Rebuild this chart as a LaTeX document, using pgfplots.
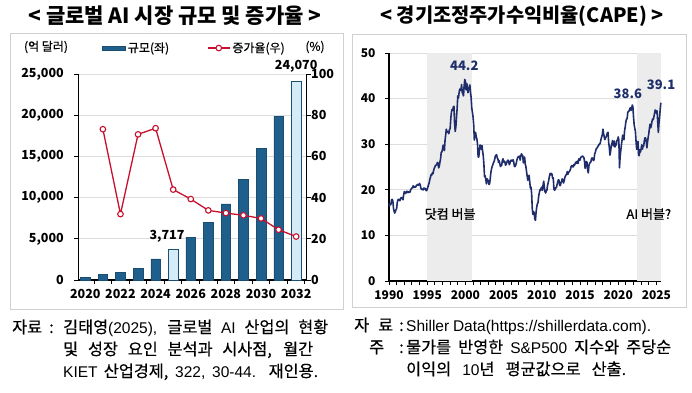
\documentclass[border=0pt]{standalone}
\usepackage{fontspec}
\setmainfont{Noto Sans CJK KR}
\newfontfamily\medfont{Noto Sans CJK KR}[FakeBold=0.45]
\newfontfamily\latfont{Liberation Sans}
\usepackage{pgfplots}
\usepackage{pgfplotstable}
\pgfplotsset{compat=1.18}
\definecolor{barD}{HTML}{1F5F8B}
\definecolor{barL}{HTML}{D4ECF8}
\definecolor{barE}{HTML}{1B4F72}
\definecolor{redL}{HTML}{C8102E}
\definecolor{navy}{HTML}{1F2E6B}
\definecolor{shade}{HTML}{ECECEC}
\definecolor{gridc}{HTML}{DDDDDD}
\definecolor{boxc}{HTML}{D0D0D0}
\newcommand{\cfont}{\medfont\fontsize{16.3}{18}\selectfont}
\newcommand{\lat}[1]{{\latfont\fontsize{15.5}{18}\selectfont #1}}
\newcommand{\lfont}{\medfont\fontsize{12}{14}\selectfont}
\newcommand{\kfont}{\bfseries\fontsize{12.5}{14}\selectfont}
\pgfplotsset{mylinelegend/.style={legend image code/.code={\draw[mark repeat=2, mark phase=2, ##1] plot coordinates {(0pt,0pt) (11pt,0pt) (22pt,0pt)};}}}
\pgfplotsset{mybarlegend/.style={legend image code/.code={\draw[fill=barD, draw=barE, line width=0.4pt] (0pt,-2.2pt) rectangle (23pt,2.2pt);}}}

\pgfplotstableread{
year size
2020 350
2021 690
2022 900
2023 1420
2024 2560
2026 5200
2027 7030
2028 9230
2029 12200
2030 15930
2031 19900
}\sizeD
\pgfplotstableread{
year size
2025 3717
2032 24070
}\sizeL
\pgfplotstableread{
year rate
2021 73.2
2022 32.0
2023 70.7
2024 73.7
2025 43.9
2026 39.3
2027 33.8
2028 32.5
2029 31.4
2030 29.9
2031 24.4
2032 21.1
}\growth
\pgfplotstableread{
y m v
1990 1 17.0
1990 2 16.5
1990 3 16.9
1990 4 16.8
1990 5 17.8
1990 6 17.9
1990 7 17.6
1990 8 16.0
1990 9 15.3
1990 10 14.9
1990 11 15.3
1990 12 15.6
1991 1 15.9
1991 2 17.2
1991 3 17.8
1991 4 17.9
1991 5 17.9
1991 6 17.6
1991 7 18.0
1991 8 18.3
1991 9 18.1
1991 10 18.3
1991 11 17.8
1991 12 18.9
1992 1 19.6
1992 2 19.5
1992 3 19.2
1992 4 19.4
1992 5 19.7
1992 6 19.4
1992 7 19.6
1992 8 19.4
1992 9 19.6
1992 10 19.5
1992 11 20.0
1992 12 20.2
1993 1 20.4
1993 2 20.5
1993 3 20.9
1993 4 20.5
1993 5 20.7
1993 6 20.6
1993 7 20.6
1993 8 21.0
1993 9 21.0
1993 10 21.2
1993 11 21.0
1993 12 21.1
1994 1 21.4
1994 2 21.1
1994 3 20.4
1994 4 20.1
1994 5 20.2
1994 6 20.0
1994 7 20.0
1994 8 20.4
1994 9 20.3
1994 10 20.3
1994 11 19.9
1994 12 19.8
1995 1 20.1
1995 2 20.6
1995 3 21.1
1995 4 21.5
1995 5 22.2
1995 6 22.7
1995 7 23.3
1995 8 23.2
1995 9 23.7
1995 10 23.5
1995 11 24.2
1995 12 24.7
1996 1 25.0
1996 2 25.4
1996 3 25.4
1996 4 25.5
1996 5 26.0
1996 6 25.9
1996 7 24.8
1996 8 25.2
1996 9 26.1
1996 10 26.8
1996 11 28.2
1996 12 28.3
1997 1 28.9
1997 2 29.8
1997 3 29.0
1997 4 28.6
1997 5 30.8
1997 6 32.0
1997 7 33.3
1997 8 32.6
1997 9 32.8
1997 10 32.8
1997 11 32.3
1997 12 33.2
1998 1 33.4
1998 2 35.5
1998 3 37.0
1998 4 37.6
1998 5 37.4
1998 6 38.2
1998 7 38.3
1998 8 34.5
1998 9 32.8
1998 10 33.8
1998 11 35.9
1998 12 37.8
1999 1 40.6
1999 2 40.1
1999 3 41.2
1999 4 42.1
1999 5 41.9
1999 6 41.8
1999 7 43.1
1999 8 41.3
1999 9 41.1
1999 10 40.6
1999 11 42.8
1999 12 44.2
2000 1 43.8
2000 2 41.9
2000 3 43.3
2000 4 42.8
2000 5 41.3
2000 6 42.0
2000 7 42.2
2000 8 43.0
2000 9 41.4
2000 10 40.2
2000 11 37.9
2000 12 37.0
2001 1 36.0
2001 2 34.3
2001 3 30.9
2001 4 31.8
2001 5 32.6
2001 6 31.6
2001 7 31.2
2001 8 30.0
2001 9 27.2
2001 10 27.2
2001 11 28.6
2001 12 29.8
2002 1 29.7
2002 2 28.9
2002 3 29.7
2002 4 28.5
2002 5 27.5
2002 6 25.7
2002 7 22.9
2002 8 23.1
2002 9 22.3
2002 10 21.3
2002 11 22.4
2002 12 22.2
2003 1 21.9
2003 2 21.2
2003 3 21.3
2003 4 22.5
2003 5 23.8
2003 6 24.6
2003 7 25.1
2003 8 25.5
2003 9 25.9
2003 10 26.2
2003 11 26.7
2003 12 27.4
2004 1 27.6
2004 2 27.7
2004 3 27.0
2004 4 26.8
2004 5 26.0
2004 6 26.4
2004 7 25.8
2004 8 25.1
2004 9 25.3
2004 10 25.4
2004 11 26.4
2004 12 26.8
2005 1 26.1
2005 2 26.3
2005 3 26.1
2005 4 25.4
2005 5 25.6
2005 6 26.0
2005 7 26.4
2005 8 26.5
2005 9 26.1
2005 10 25.5
2005 11 25.9
2005 12 26.4
2006 1 26.5
2006 2 26.3
2006 3 26.4
2006 4 26.6
2006 5 26.0
2006 6 25.1
2006 7 25.1
2006 8 25.4
2006 9 25.9
2006 10 26.6
2006 11 27.0
2006 12 27.3
2007 1 27.2
2007 2 27.4
2007 3 26.5
2007 4 27.4
2007 5 27.9
2007 6 27.6
2007 7 27.5
2007 8 25.9
2007 9 26.4
2007 10 27.2
2007 11 25.6
2007 12 25.1
2008 1 24.0
2008 2 23.0
2008 3 22.1
2008 4 22.6
2008 5 23.2
2008 6 21.8
2008 7 20.4
2008 8 20.6
2008 9 19.2
2008 10 15.9
2008 11 14.6
2008 12 15.2
2009 1 15.0
2009 2 13.6
2009 3 13.3
2009 4 15.1
2009 5 16.2
2009 6 16.9
2009 7 17.2
2009 8 18.5
2009 9 19.3
2009 10 20.0
2009 11 19.9
2009 12 20.4
2010 1 20.6
2010 2 19.9
2010 3 21.1
2010 4 21.9
2010 5 20.5
2010 6 19.6
2010 7 19.3
2010 8 19.8
2010 9 19.9
2010 10 21.0
2010 11 21.5
2010 12 22.2
2011 1 23.0
2011 2 23.6
2011 3 23.3
2011 4 23.6
2011 5 23.4
2011 6 22.5
2011 7 22.6
2011 8 20.2
2011 9 19.9
2011 10 20.1
2011 11 20.5
2011 12 20.5
2012 1 21.2
2012 2 21.7
2012 3 22.2
2012 4 22.1
2012 5 21.0
2012 6 20.9
2012 7 21.5
2012 8 21.8
2012 9 22.4
2012 10 22.2
2012 11 21.5
2012 12 21.9
2013 1 22.6
2013 2 23.0
2013 3 23.3
2013 4 23.3
2013 5 24.0
2013 6 23.4
2013 7 23.9
2013 8 23.9
2013 9 24.2
2013 10 24.5
2013 11 25.1
2013 12 25.3
2014 1 25.2
2014 2 25.0
2014 3 25.5
2014 4 25.3
2014 5 25.6
2014 6 26.0
2014 7 26.1
2014 8 25.8
2014 9 26.3
2014 10 25.8
2014 11 26.8
2014 12 26.6
2015 1 26.5
2015 2 27.1
2015 3 27.2
2015 4 27.3
2015 5 27.4
2015 6 27.2
2015 7 27.1
2015 8 26.3
2015 9 24.7
2015 10 25.4
2015 11 26.2
2015 12 26.0
2016 1 24.3
2016 2 23.7
2016 3 25.3
2016 4 25.8
2016 5 26.0
2016 6 26.1
2016 7 26.8
2016 8 27.0
2016 9 26.8
2016 10 26.4
2016 11 26.6
2016 12 27.9
2017 1 28.2
2017 2 28.8
2017 3 29.1
2017 4 29.2
2017 5 29.5
2017 6 29.7
2017 7 30.0
2017 8 30.0
2017 9 30.4
2017 10 31.1
2017 11 31.6
2017 12 32.1
2018 1 33.3
2018 2 32.3
2018 3 31.6
2018 4 31.0
2018 5 31.4
2018 6 31.6
2018 7 32.0
2018 8 32.5
2018 9 32.6
2018 10 30.4
2018 11 29.3
2018 12 27.6
2019 1 28.4
2019 2 29.6
2019 3 30.0
2019 4 30.8
2019 5 29.9
2019 6 29.6
2019 7 30.7
2019 8 29.4
2019 9 29.8
2019 10 29.9
2019 11 30.8
2019 12 31.0
2020 1 31.6
2020 2 30.9
2020 3 24.8
2020 4 27.3
2020 5 28.6
2020 6 29.8
2020 7 30.9
2020 8 32.0
2020 9 31.2
2020 10 31.0
2020 11 33.0
2020 12 33.8
2021 1 34.9
2021 2 35.5
2021 3 35.6
2021 4 37.0
2021 5 37.2
2021 6 37.3
2021 7 37.7
2021 8 38.0
2021 9 37.4
2021 10 37.6
2021 11 38.6
2021 12 38.3
2022 1 36.0
2022 2 34.3
2022 3 33.5
2022 4 32.8
2022 5 30.6
2022 6 28.9
2022 7 29.0
2022 8 30.6
2022 9 27.6
2022 10 27.5
2022 11 28.8
2022 12 28.3
2023 1 29.0
2023 2 29.9
2023 3 28.9
2023 4 29.6
2023 5 29.6
2023 6 30.8
2023 7 31.4
2023 8 31.4
2023 9 30.6
2023 10 29.2
2023 11 30.4
2023 12 31.5
2024 1 32.3
2024 2 33.5
2024 3 34.4
2024 4 33.6
2024 5 34.1
2024 6 35.0
2024 7 35.5
2024 8 35.4
2024 9 36.0
2024 10 36.7
2024 11 37.5
2024 12 37.4
2025 1 36.8
2025 2 37.3
2025 3 35.0
2025 4 32.6
2025 5 34.6
2025 6 36.0
2025 7 37.8
2025 8 39.1
}\cape

\begin{document}
\begin{tikzpicture}
\useasboundingbox (0pt,0pt) rectangle (692pt,-392pt);
% panel boxes
\draw[boxc, line width=0.8pt] (10pt,-33pt) rectangle (343pt,-309pt);
\draw[boxc, line width=0.8pt] (352pt,-34pt) rectangle (686pt,-307pt);
% titles
\node[inner sep=0] at (175pt,-16pt) {\bfseries\fontsize{21}{23}\selectfont < 글로벌 AI 시장 규모 및 증가율 >};
\node[inner sep=0] at (522pt,-16pt) {\bfseries\fontsize{19.8}{22}\selectfont < 경기조정주가수익비율(CAPE) >};
% left unit labels
\node[inner sep=0] at (46pt,-47pt) {\lfont (억 달러)};
\node[inner sep=0] at (315pt,-47pt) {\lfont (\%)};

% ---------- left chart: bars ----------
\begin{axis}[
  at={(78.3pt,-280pt)}, anchor=south west, scale only axis,
  width=228.4pt, height=206pt,
  xmin=2019.6, xmax=2032.6, ymin=0, ymax=25000,
  axis x line*=bottom, axis y line*=left,
  axis line style={black, line width=1.2pt},
  xtick={2020.5,2021.5,...,2032.5}, xticklabels={},
  ytick={0,5000,...,25000},
  tick style={black, line width=1pt},
  major tick length=4pt, tick align=outside,
  ymajorgrids, grid style={gridc, line width=0.7pt},
  tick label style={font=\kfont},
  /pgf/number format/assume math mode=true,
  scaled y ticks=false,
  yticklabel style={xshift=-7pt},
  ybar, bar width=0.55, bar shift=0pt,
  clip=false,
]
\addplot[fill=barD, draw=barE, line width=0.5pt] table[x=year, y=size] {\sizeD};
\addplot[fill=barL, draw=barE, line width=0.7pt] table[x=year, y=size] {\sizeL};
\node[font=\kfont, inner sep=0] at (axis cs:2024.65,5340) {3,717};
\node[font=\kfont, inner sep=0] at (axis cs:2032,25890) {24,070};
\end{axis}

% ---------- left chart: growth line (right axis) ----------
\begin{axis}[
  at={(78.3pt,-280pt)}, anchor=south west, scale only axis,
  width=228.4pt, height=206pt,
  xmin=2019.6, xmax=2032.6, ymin=0, ymax=100,
  axis y line*=right, axis x line*=bottom,
  x axis line style={draw=none},
  y axis line style={black, line width=1.2pt},
  xtick={2020,2022,...,2032}, xtick style={draw=none},
  ytick={0,20,...,100}, ytick style={black, line width=1pt},
  major tick length=4pt, tick align=outside,
  tick label style={font=\kfont},
  /pgf/number format/assume math mode=true,
  xticklabel style={/pgf/number format/1000 sep={}, yshift=-2pt},
  yticklabel style={xshift=-3pt},
  clip=false,
  legend style={at={(0.105,1.126)}, anchor=west, draw=none, fill=none,
    inner sep=0pt, font=\lfont,
    /tikz/every even column/.append style={column sep=36pt}},
  legend columns=-1,
]
\addlegendimage{mybarlegend}
\addlegendentry{규모(좌)}
\addplot[redL, line width=1.3pt, mark=*, mark size=2.8pt,
  mark options={fill=white, draw=redL, line width=1.1pt}, mylinelegend]
  table[x=year, y=rate] {\growth};
\addlegendentry{증가율(우)}
\end{axis}

% ---------- right chart: CAPE ----------
\begin{axis}[
  at={(389pt,-281pt)}, anchor=south west, scale only axis,
  width=272pt, height=228pt,
  xmin=1990, xmax=2025.6, ymin=0, ymax=50,
  axis x line*=bottom, axis y line*=left,
  axis line style={black, line width=1.2pt},
  xtick={1990,1995,...,2025}, minor x tick num=4,
  ytick={0,10,...,50},
  tick style={black, line width=1pt},
  major tick length=4pt, minor tick length=4pt, tick align=outside,
  ymajorgrids, grid style={gridc, line width=0.7pt},
  tick label style={font=\bfseries\fontsize{12}{14}\selectfont},
  /pgf/number format/assume math mode=true,
  xticklabel style={/pgf/number format/1000 sep={}, yshift=-2pt},
  yticklabel style={xshift=-6pt},
  clip=false,
]
\addplot[fill=shade, draw=none] coordinates {(1995,50) (2000.8,50)} \closedcycle;
\addplot[fill=shade, draw=none] coordinates {(2022.45,50) (2025.6,50)} \closedcycle;
\addplot[navy, line width=1.6pt, line join=round] table[x expr=\thisrow{y}+(\thisrow{m}-1)/12, y=v] {\cape};
\node[font=\bfseries\fontsize{13}{15}\selectfont, text=navy, inner sep=0] at (axis cs:1999.85,47.1) {44.2};
\node[font=\bfseries\fontsize{13}{15}\selectfont, text=navy, inner sep=0] at (axis cs:2021.26,41.0) {38.6};
\node[font=\bfseries\fontsize{13}{15}\selectfont, text=navy, inner sep=0] at (axis cs:2025.6,43.0) {39.1};
\node[inner sep=0] at (axis cs:1998.0,14.7) {\medfont\fontsize{13}{15}\selectfont 닷컴 버블};
\node[inner sep=0] at (axis cs:2024.0,14.7) {\medfont\fontsize{13}{15}\selectfont AI 버블?};
\end{axis}

% captions
\node[anchor=base west, inner sep=0] at (12pt,-333pt) {\cfont 자료};
\node[anchor=base west, inner sep=0] at (49pt,-333pt) {\cfont :};
\node[anchor=base west, inner sep=0] at (63pt,-333pt) {\cfont\makebox[265pt][s]{김태영\lat{(2025),} 글로벌 \lat{AI} 산업의 현황}};
\node[anchor=base west, inner sep=0] at (63pt,-355pt) {\cfont\makebox[250pt][s]{및 성장 요인 분석과 시사점, 월간}};
\node[anchor=base west, inner sep=0] at (63pt,-377pt) {\cfont\makebox[255pt][s]{\lat{KIET} 산업경제, \lat{322,} \lat{30-44.} 재인용.}};

\node[anchor=base west, inner sep=0] at (354pt,-331pt) {\cfont\makebox[39pt][s]{자 료}};
\node[anchor=base west, inner sep=0] at (399pt,-331pt) {\cfont :};
\node[anchor=base west, inner sep=0] at (406pt,-331pt) {\cfont\makebox[245pt][s]{\lat{Shiller} \lat{Data(https://shillerdata.com).}}};
\node[anchor=base west, inner sep=0] at (369pt,-353pt) {\cfont 주};
\node[anchor=base west, inner sep=0] at (399pt,-353pt) {\cfont :};
\node[anchor=base west, inner sep=0] at (406pt,-353pt) {\cfont\makebox[265pt][s]{물가를 반영한 \lat{S\&P500} 지수와 주당순}};
\node[anchor=base west, inner sep=0] at (406pt,-375pt) {\cfont\makebox[220pt][s]{이익의 \lat{10}년 평균값으로 산출.}};
\end{tikzpicture}
\end{document}
